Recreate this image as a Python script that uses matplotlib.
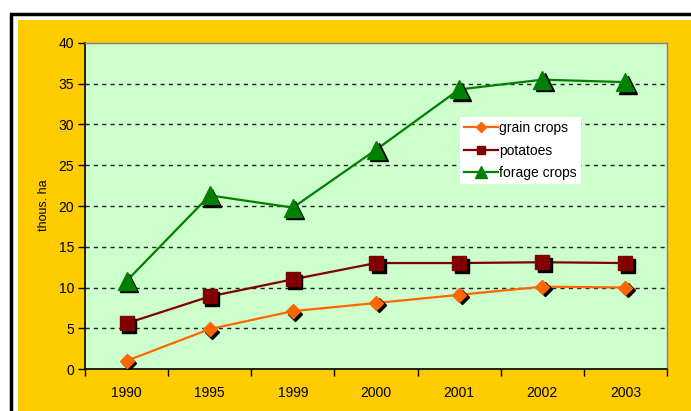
import matplotlib
matplotlib.use("Agg")
import matplotlib.pyplot as plt
import matplotlib.transforms as mtransforms
from matplotlib.patches import Rectangle

years = ["1990", "1995", "1999", "2000", "2001", "2002", "2003"]
grain = [1.0, 4.9, 7.1, 8.1, 9.1, 10.1, 10.0]
potatoes = [5.6, 8.9, 11.0, 13.0, 13.0, 13.1, 13.0]
forage = [10.8, 21.3, 19.8, 26.9, 34.3, 35.5, 35.2]

plt.rcParams["font.family"] = ["Liberation Sans", "DejaVu Sans"]

W, H = 691, 411
fig = plt.figure(figsize=(W / 100, H / 100), dpi=100)
fig.patch.set_facecolor("white")

# yellow panel and black frame (cut off on right / bottom like the screenshot)
fig.patches.append(Rectangle((18 / W, -0.1), 1.2, (H - 20) / H + 0.1, transform=fig.transFigure,
                             facecolor="#FFCC00", edgecolor="none", zorder=-2))
fig.patches.append(Rectangle((10.5 / W, -0.1), 1.2, (H - 13.5) / H + 0.1, transform=fig.transFigure,
                             facecolor="none", edgecolor="black", linewidth=2.5, zorder=-1))

ax = fig.add_axes([85 / W, (H - 369) / H, 582 / W, 326 / H])
ax.set_zorder(2)
ax.set_facecolor("#CCFFCC")

x = list(range(len(years)))
series = [
    ("grain crops", grain, "#FF6600", "D", 7, 5),
    ("potatoes", potatoes, "#800000", "s", 10, 6),
    ("forage crops", forage, "#008000", "^", 12.5, 8),
]

shadow = mtransforms.offset_copy(ax.transData, fig=fig, x=2.5, y=-2.5, units="dots")

for label, vals, col, mk, ms, lms in series:
    ax.plot(x, vals, color=col, lw=1.6, zorder=3)
    ax.plot(x, vals, ls="none", marker=mk, ms=ms, color="black", mec="black",
            transform=shadow, zorder=4)
    ax.plot(x, vals, ls="none", marker=mk, ms=ms, color=col, mec=col, zorder=5)
    ax.plot([], [], color=col, lw=1.6, marker=mk, ms=lms, label=label)

ax.set_ylim(0, 40)
ax.set_yticks(range(0, 41, 5))
ax.set_xlim(-0.5, len(years) - 0.5)
ax.set_xticks([i - 0.5 for i in range(len(years) + 1)])
ax.set_xticklabels([])
ax.set_xticks(x, minor=True)
ax.set_xticklabels(years, minor=True)
ax.tick_params(axis="x", which="major", direction="out", length=5, width=1)
ax.tick_params(axis="x", which="minor", length=0, pad=12, labelsize=10)
ax.tick_params(axis="y", direction="out", length=5, width=1, labelsize=10, pad=3)

for yv in range(5, 40, 5):
    ax.axhline(yv, color="#222222", lw=1, ls=(0, (3, 3)), zorder=1)

for s in ["left", "bottom"]:
    ax.spines[s].set_color("black")
    ax.spines[s].set_linewidth(1.2)
for s in ["top", "right"]:
    ax.spines[s].set_color("#808080")
    ax.spines[s].set_linewidth(1)

fig.text(44 / W, 1 - 205 / H, "thous. ha", rotation=90, ha="center", va="center", fontsize=9)

leg = ax.legend(loc="upper left", bbox_to_anchor=((460 - 85) / 582, 1 - (117 - 43) / 326),
                frameon=True, fancybox=False, fontsize=10, handlelength=2.4,
                handletextpad=0.1, borderpad=0.3, labelspacing=0.6, borderaxespad=0)
leg.get_frame().set_facecolor("white")
leg.get_frame().set_edgecolor("none")
leg.get_frame().set_alpha(1)

fig.savefig("out.png", dpi=100, facecolor=fig.get_facecolor())
